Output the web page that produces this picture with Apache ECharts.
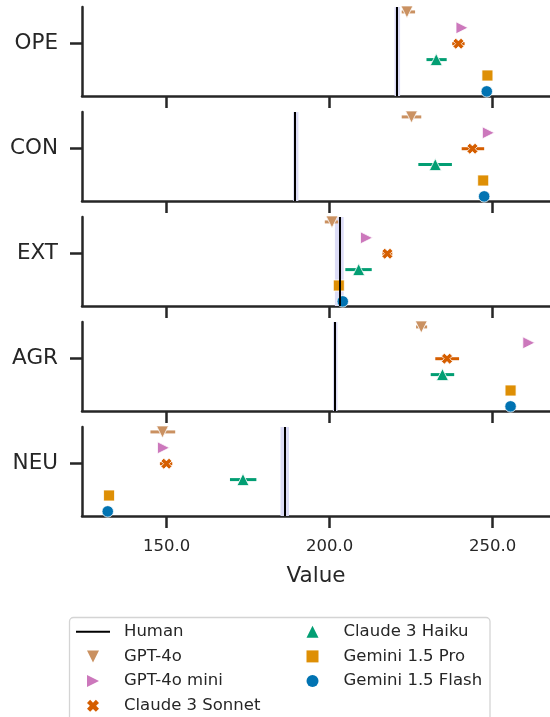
<!DOCTYPE html>
<html>
<head>
<meta charset="utf-8">
<script src="https://cdn.jsdelivr.net/npm/echarts@6/dist/echarts.min.js"></script>
<style>html,body{margin:0;padding:0;background:#fff}#c{width:550px;height:717px}</style>
</head>
<body>
<div id="c"></div>
<script>
const traits = ['OPE', 'CON', 'EXT', 'AGR', 'NEU'];
const xTicks = [150, 200, 250];
const models = ['GPT-4o', 'GPT-4o mini', 'Claude 3 Sonnet', 'Claude 3 Haiku', 'Gemini 1.5 Pro', 'Gemini 1.5 Flash'];

const humanMean = [220.7, 189.4, 203.1, 201.7, 186.2];
const humanLow  = [219.9, 188.8, 201.6, 201.0, 184.9];
const humanHigh = [221.6, 190.4, 204.3, 202.4, 187.5];

const gpt4oMean = [223.7, 225.1, 200.7, 228.1, 148.7];
const gpt4oLow  = [222.1, 222.1, 198.5, 226.5, 145.0];
const gpt4oHigh = [226.2, 228.1, 202.6, 229.9, 152.6];

const miniMean = [240.6, 248.7, 211.3, 261.1, 149.0];
const miniLow  = [239.8, 248.0, 210.6, 260.4, 148.2];
const miniHigh = [241.4, 249.4, 212.0, 261.8, 149.8];

const sonnetMean = [239.5, 243.8, 217.7, 236.0, 149.9];
const sonnetLow  = [237.6, 240.5, 216.2, 232.4, 147.9];
const sonnetHigh = [241.4, 247.4, 219.2, 239.7, 151.7];

const haikuMean = [232.7, 232.4, 208.9, 234.6, 173.4];
const haikuLow  = [229.7, 227.2, 204.8, 231.0, 169.4];
const haikuHigh = [235.9, 237.5, 212.9, 238.2, 177.5];

const proMean = [248.4, 247.1, 202.8, 255.5, 132.3];
const proLow  = [247.8, 246.5, 202.2, 254.9, 131.7];
const proHigh = [249.0, 247.7, 203.4, 256.1, 132.9];

const flashMean = [248.2, 247.4, 204.0, 255.5, 131.9];
const flashLow  = [247.6, 246.8, 203.4, 254.9, 131.3];
const flashHigh = [248.8, 248.0, 204.6, 256.1, 132.5];

const means = [gpt4oMean, miniMean, sonnetMean, haikuMean, proMean, flashMean];
const lows  = [gpt4oLow, miniLow, sonnetLow, haikuLow, proLow, flashLow];
const highs = [gpt4oHigh, miniHigh, sonnetHigh, haikuHigh, proHigh, flashHigh];
const dodge = [-2, -1, 0, 1, 2, 3];

const colors = ['#CA9161', '#CC78BC', '#D55E00', '#029E73', '#DE8F05', '#0173B2'];
const symbols = [
  'path://M0,0L10,0L5,10Z',
  'path://M0,0L10,5L0,10Z',
  'path://M2.6,0L5,2.4L7.4,0L10,2.6L7.6,5L10,7.4L7.4,10L5,7.6L2.6,10L0,7.4L2.4,5L0,2.6Z',
  'path://M5,0L10,10L0,10Z',
  'path://M0,0L10,0L10,10L0,10Z',
  'circle'
];
const sizes = [12, 12, 11, 12, 11, 11.5];
const humanIcon = 'path://M0,0L34,0L34,2L0,2Z';

const FONT = 'DejaVu Sans';
const TXT = '#262626';
const chart = echarts.init(document.getElementById('c'), null, {renderer: 'canvas'});

const grids = [], xAxes = [], yAxes = [], series = [];
traits.forEach((t, i) => {
  grids.push({left: 82, right: 0, top: 7 + 105 * i, height: 89});
  const last = i === traits.length - 1;
  xAxes.push({
    type: 'value', gridIndex: i, min: 124, max: 267.6,
    axisLine: {show: true, onZero: false, lineStyle: {color: TXT, width: 2.5}},
    axisTick: {show: true, customValues: xTicks, length: 12, lineStyle: {color: TXT, width: 2.5}},
    axisLabel: {show: last, customValues: xTicks, formatter: v => v.toFixed(1), fontSize: 16.5, fontFamily: FONT, color: TXT, margin: 22},
    splitLine: {show: false},
    name: last ? 'Value' : '', nameLocation: 'middle', nameGap: 49,
    nameTextStyle: {fontSize: 21.5, fontFamily: FONT, color: TXT}
  });
  yAxes.push({
    type: 'value', gridIndex: i, inverse: true, min: -2.31, max: 3.29,
    axisLine: {show: true, onZero: false, lineStyle: {color: TXT, width: 2.5}},
    axisTick: {show: true, customValues: [0], length: 12, lineStyle: {color: TXT, width: 2.5}},
    axisLabel: {show: true, customValues: [0], formatter: () => t, fontSize: 21.5, fontFamily: FONT, color: TXT, margin: 24},
    splitLine: {show: false}
  });
  series.push({
    type: 'line', name: 'HumanBand', xAxisIndex: i, yAxisIndex: i, data: [], z: 1, silent: true,
    markArea: {silent: true, itemStyle: {color: '#dcdcf6'}, data: [[{xAxis: humanLow[i]}, {xAxis: humanHigh[i]}]]}
  });
  series.push({
    type: 'custom', xAxisIndex: i, yAxisIndex: i, z: 2, silent: true,
    data: models.map((m, k) => [lows[k][i], highs[k][i], dodge[k], k]),
    encode: {x: [0, 1], y: 2},
    renderItem: (params, api) => {
      const p1 = api.coord([api.value(0), api.value(2)]);
      const p2 = api.coord([api.value(1), api.value(2)]);
      return {type: 'line', shape: {x1: p1[0], y1: p1[1], x2: p2[0], y2: p2[1]},
              style: {stroke: colors[api.value(3)], lineWidth: 3}};
    }
  });
  models.forEach((m, k) => {
    series.push({
      type: 'scatter', name: m, xAxisIndex: i, yAxisIndex: i, z: 3,
      symbol: symbols[k], symbolSize: sizes[k],
      itemStyle: {color: colors[k], borderColor: '#fff', borderWidth: 0.8, opacity: 1},
      data: [[means[k][i], dodge[k]]]
    });
  });
  series.push({
    type: 'line', name: 'Human', xAxisIndex: i, yAxisIndex: i, data: [], symbol: 'none', z: 4,
    lineStyle: {color: '#000', width: 2}, itemStyle: {color: '#000'},
    markLine: {silent: true, symbol: ['none', 'none'], label: {show: false},
      lineStyle: {color: '#000', width: 2, type: 'solid'},
      data: [{xAxis: humanMean[i]}]}
  });
});

const legendBase = {
  orient: 'vertical', top: 622.7, height: 160, padding: 0, itemWidth: 34, itemHeight: 12, itemGap: 6.7,
  selectedMode: false,
  itemStyle: {borderWidth: 0},
  textStyle: {fontSize: 16.5, fontFamily: FONT, color: TXT, lineHeight: 18, padding: [0, 0, 0, 9]}
};
const legendItem = name => {
  if (name === 'Human') return {name, icon: humanIcon};
  const k = models.indexOf(name);
  return {name, icon: symbols[k]};
};

chart.setOption({
  animation: false,
  backgroundColor: '#fff',
  textStyle: {fontFamily: FONT},
  grid: grids,
  xAxis: xAxes,
  yAxis: yAxes,
  legend: [
    Object.assign({}, legendBase, {left: 76, data: ['Human', 'GPT-4o', 'GPT-4o mini', 'Claude 3 Sonnet'].map(legendItem)}),
    Object.assign({}, legendBase, {left: 306.5, data: ['Claude 3 Haiku', 'Gemini 1.5 Pro', 'Gemini 1.5 Flash'].map(legendItem)})
  ],
  graphic: [{
    type: 'rect', z: 0, silent: true,
    shape: {x: 69.5, y: 617.5, width: 420.5, height: 104, r: 4},
    style: {fill: '#fff', stroke: '#d4d4d4', lineWidth: 1.3}
  }],
  series: series
});
</script>
</body>
</html>
